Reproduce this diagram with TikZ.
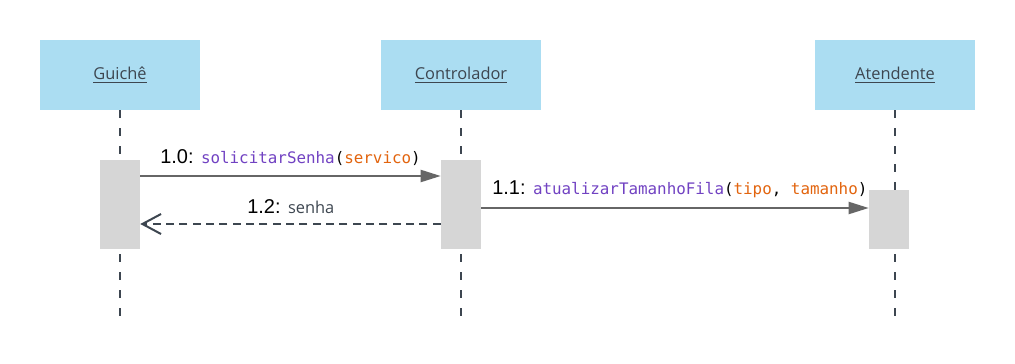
\documentclass[tikz,border=0pt]{standalone}
\usepackage{fontspec}
\setmainfont{Liberation Sans}
\newfontfamily\hdfont{Open Sans}
\newfontfamily\codefont{DejaVu Sans Mono}
\usepackage{tikz}
\usetikzlibrary{arrows.meta}

\definecolor{actorblue}{HTML}{ABDDF2}
\definecolor{activgray}{HTML}{D6D6D6}
\definecolor{darkline}{HTML}{3D4650}
\definecolor{msggray}{HTML}{666666}
\definecolor{methodpurple}{HTML}{7142C2}
\definecolor{argorange}{HTML}{E2640E}

\newcommand{\meth}[1]{\textcolor{methodpurple}{#1}}
\newcommand{\argm}[1]{\textcolor{argorange}{#1}}

\tikzset{
  actor/.style={fill=actorblue, minimum width=120pt, minimum height=52.5pt,
    inner sep=0pt, text=darkline, font=\hdfont\fontsize{12.3}{14}\selectfont},
  activ/.style={fill=activgray, minimum width=30pt, inner sep=0pt},
  lifeline/.style={draw=darkline, line width=1.5pt, dash pattern=on 6pt off 7.5pt},
  msg/.style={draw=msggray, line width=1.5pt, -{Triangle[length=15pt,width=9pt]}},
  reply/.style={draw=darkline, line width=1.5pt, dash pattern=on 6pt off 4pt,
    -{Straight Barb[length=14pt,width=15pt,line width=1.5pt]}},
  msglabel/.style={anchor=base west, inner sep=0pt, font=\fontsize{15}{17}\selectfont},
}

\begin{document}
\begin{tikzpicture}[x=0.75pt,y=-0.75pt]
  \useasboundingbox (0,0) rectangle (1015,364);

  % actors
  \node[actor] (guiche) at (120,75) {\underline{Guichê}};
  \node[actor] (ctrl) at (461,75) {\underline{Controlador}};
  \node[actor] (atend) at (895,75) {\underline{Atendente}};

  % lifelines
  \coordinate (guicheend) at (120,322);
  \coordinate (ctrlend) at (461,322);
  \coordinate (atendend) at (895,322);
  \draw[lifeline] (guiche.south) -- (guicheend);
  \draw[lifeline] (ctrl.south) -- (ctrlend);
  \draw[lifeline] (atend.south) -- (atendend);

  % activation bars
  \node[activ, minimum height=66.75pt, anchor=north] (ag) at (120,160) {};
  \node[activ, minimum height=66.75pt, anchor=north] (ac) at (461,160) {};
  \node[activ, minimum height=44.25pt, anchor=north] (aa) at (889,190) {};

  % messages
  \draw[msg] ([yshift=-12pt]ag.north east) -- ([yshift=-12pt]ac.north west);
  \node[msglabel] at (160,163) {1.0: {\codefont\fontsize{11.9}{14}\selectfont\meth{solicitarSenha}(\argm{servico})}};

  \draw[msg] ([yshift=-36pt]ac.north east) -- ([yshift=-13.5pt]aa.north west);
  \node[msglabel] at (492,194) {1.1: {\codefont\fontsize{11.9}{14}\selectfont\meth{atualizarTamanhoFila}(\argm{tipo}, \argm{tamanho})}};

  \draw[reply] ([yshift=-48pt]ac.north west) -- ([yshift=-48pt]ag.north east);
  \node[msglabel] at (247,213) {1.2: {\hdfont\fontsize{12.3}{14}\selectfont\color{darkline}senha}};
\end{tikzpicture}
\end{document}
